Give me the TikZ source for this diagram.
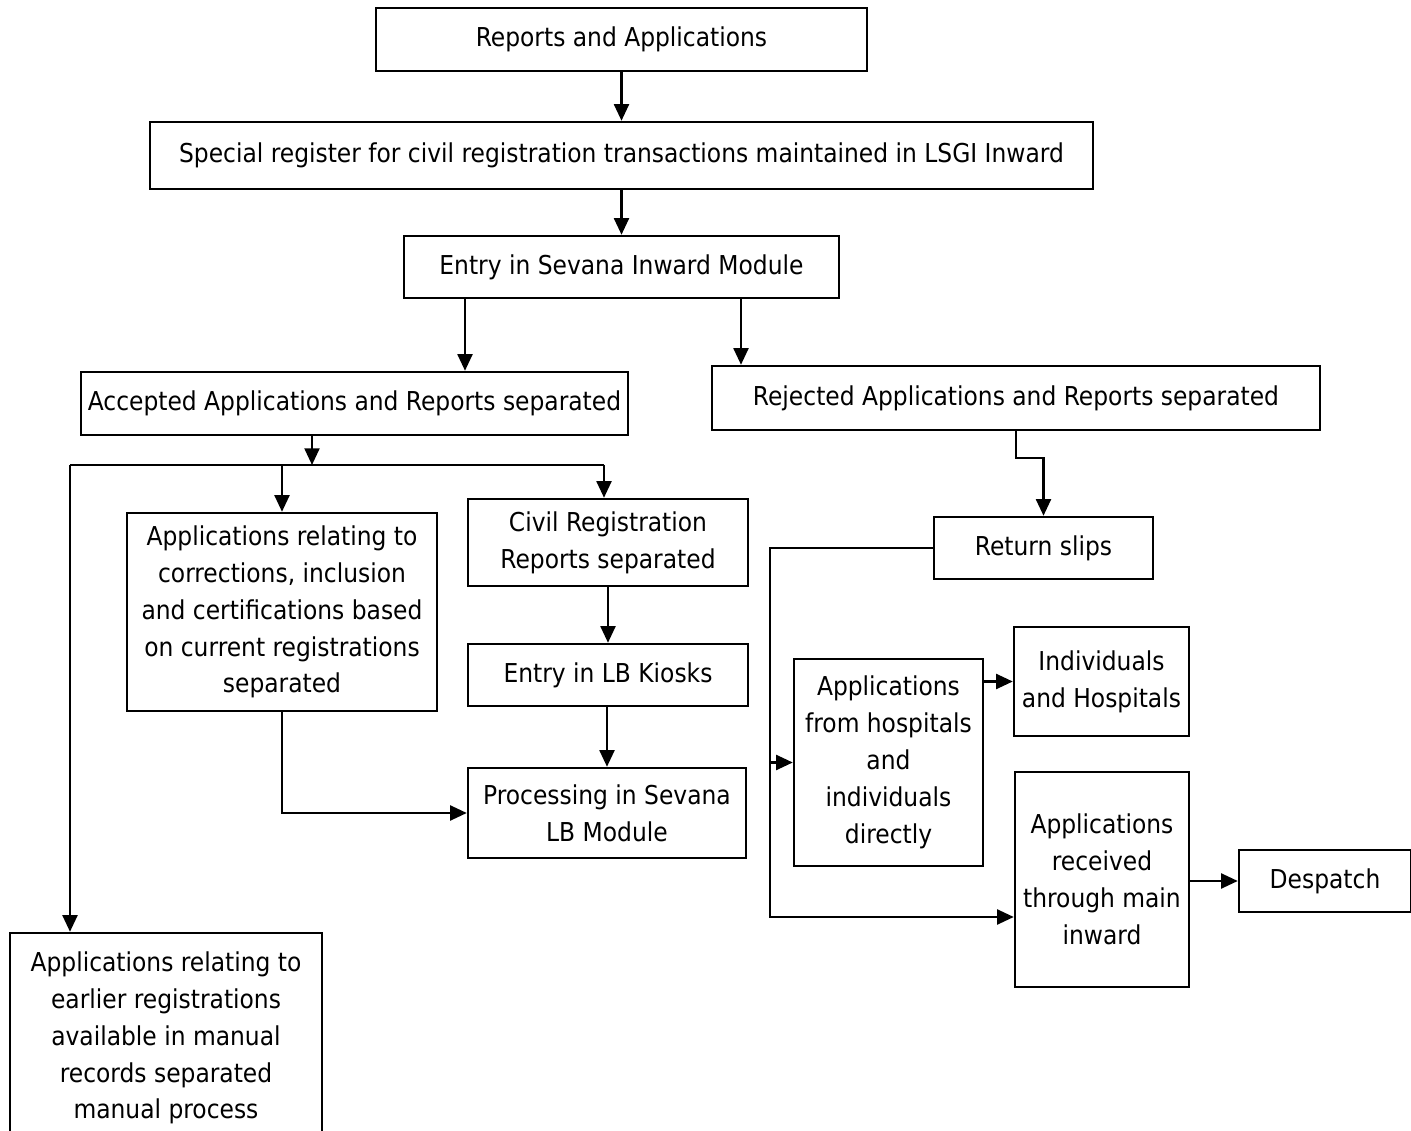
\documentclass[tikz,border=0pt]{standalone}
\usepackage{fontspec}
\setmainfont{DejaVu Sans Condensed}
\usetikzlibrary{arrows.meta}

\begin{document}
\begin{tikzpicture}[x=0.02cm, y=-0.02cm, line width=1.4pt,
    box/.style={draw, align=center, inner sep=0pt, font=\fontsize{14.8}{21}\selectfont},
    arr/.style={-{Triangle[length=9.5pt,width=8.5pt]}}]
            \useasboundingbox (0,0) rectangle (1411,1131);
            % boxes
            \node [box, minimum width=9.82cm, minimum height=1.26cm] (reports) at (621.5,39.5) {Reports and Applications};
            \node [box, minimum width=18.86cm, minimum height=1.34cm] (register) at (621.5,155.5) {Special register for civil registration transactions maintained in LSGI Inward};
            \node [box, minimum width=8.7cm, minimum height=1.24cm] (inward) at (621.5,267) {Entry in Sevana Inward Module};
            \node [box, minimum width=10.94cm, minimum height=1.26cm] (accepted) at (354.5,403.5) {Accepted Applications and Reports separated};
            \node [box, minimum width=12.16cm, minimum height=1.28cm] (rejected) at (1016,398) {Rejected Applications and Reports separated};
            \node [box, minimum width=6.2cm, minimum height=3.96cm] (current) at (282,612) {Applications relating to\\corrections, inclusion\\and certifications based\\on current registrations\\separated};
            \node [box, minimum width=5.6cm, minimum height=1.74cm] (civil) at (608,542.5) {Civil Registration\\Reports separated};
            \node [box, minimum width=5.6cm, minimum height=1.24cm] (kiosk) at (608,675) {Entry in LB Kiosks};
            \node [box, minimum width=5.56cm, minimum height=1.8cm] (lbmod) at (607,813) {Processing in Sevana\\LB Module};
            \node [box, minimum width=4.38cm, minimum height=1.24cm] (slips) at (1043.5,548) {Return slips};
            \node [box, minimum width=3.78cm, minimum height=4.14cm] (direct) at (888.5,762.5) {Applications\\from hospitals\\and\\individuals\\directly};
            \node [box, minimum width=3.5cm, minimum height=2.18cm] (indiv) at (1101.5,681.5) {Individuals\\and Hospitals};
            \node [box, minimum width=3.48cm, minimum height=4.3cm] (maininw) at (1102,879.5) {Applications\\received\\through main\\inward};
            \node [box, minimum width=3.44cm, minimum height=1.24cm] (despatch) at (1325,881) {Despatch};
            \node [box, minimum width=6.24cm, minimum height=4.2cm] (manual) at (166,1038) {Applications relating to\\earlier registrations\\available in manual\\records separated\\manual process};
            % junctions
            \coordinate (split) at (312,465);
            \coordinate (splitL) at (70,465);
            \coordinate (splitR) at (604,465);
            \coordinate (loop) at (770,765);
            % connectors
            \draw [arr] (reports) -- (register);
            \draw [arr] (register) -- (inward);
            \draw [arr] (inward.south -| 465,0) -- (accepted.north -| 465,0);
            \draw [arr] (inward.south -| 741,0) -- (rejected.north -| 741,0);
            \draw [arr] (accepted.south -| split) -- (split);
            \draw (splitL) -- (splitR);
            \draw [arr] (current.north |- split) -- (current.north);
            \draw [arr] (splitR) -- (civil.north -| splitR);
            \draw [arr] (splitL) -- (manual.north -| splitL);
            \draw [arr] (rejected.south) -- ++(0,27) -| (slips.north);
            \draw [arr] (civil) -- (kiosk);
            \draw [arr] (kiosk.south -| lbmod.north) -- (lbmod.north);
            \draw [arr] (current.south) |- (lbmod.west);
            \draw [arr] (slips.west) -| (770,917) -- (maininw.west |- 0,917);
            \draw [arr] (direct.west -| loop) -- (direct.west);
            \draw [arr] (direct.east |- indiv) -- (indiv.west);
            \draw [arr] (maininw.east |- despatch) -- (despatch.west);
\end{tikzpicture}
\end{document}
